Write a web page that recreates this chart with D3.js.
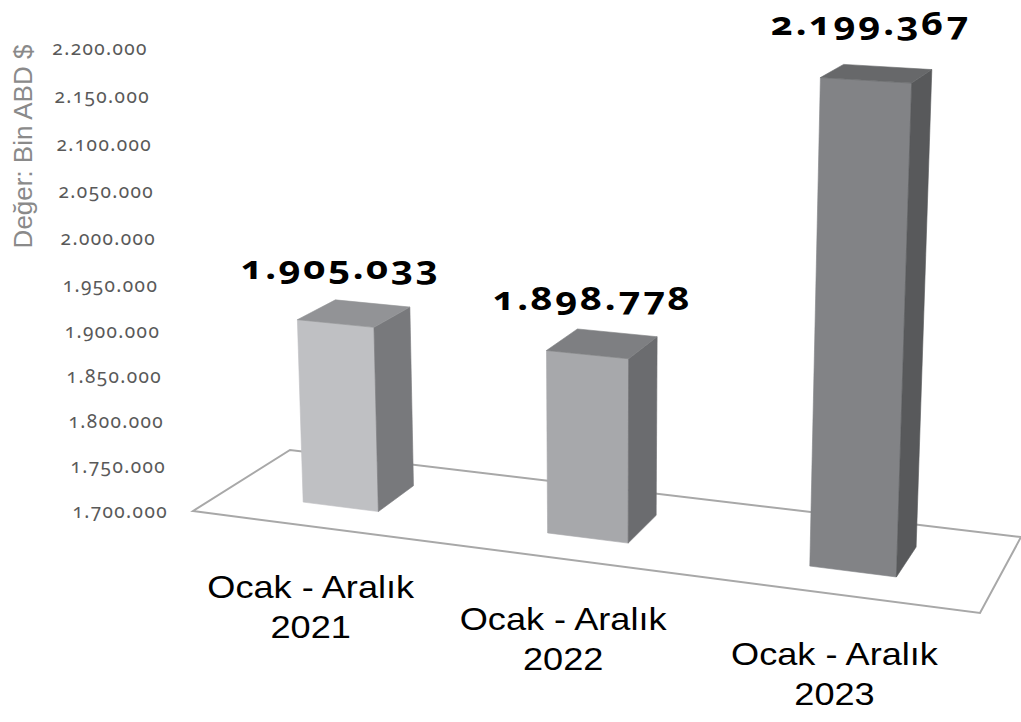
<!DOCTYPE html>
<html>
<head>
<meta charset="utf-8">
<script src="https://cdn.jsdelivr.net/npm/d3@7"></script>
<style>
  html, body { margin: 0; padding: 0; background: #ffffff; }
  svg { display: block; }
</style>
</head>
<body>
<div id="chart"></div>
<script>
// ---------------- data ----------------
const categories = ["Ocak - Aralık 2021", "Ocak - Aralık 2022", "Ocak - Aralık 2023"];
const values = [1905033, 1898778, 2199367];
const tickValues = [1700000, 1750000, 1800000, 1850000, 1900000, 1950000, 2000000, 2050000, 2100000, 2150000, 2200000];
const axisTitle = "Değer: Bin ABD $";

// ---------------- style ----------------
const frontColors = ["#bfc0c3", "#a7a8ab", "#828386"];
const topColors   = ["#929396", "#7e7f82", "#67686a"];
const sideColors  = ["#78797c", "#6b6c6f", "#58595b"];

const W = 1021, H = 722;

// ---------------- perspective frame ----------------
// floor quad corners (frame of the 3D plot): front-left, front-right, back-right, back-left
const floorFL = [193, 511], floorFR = [980, 613], floorBR = [1021, 537], floorBL = [290, 450];
const vertVP = [605, 10000];   // vanishing point of vertical lines
const axisTopY = 48;           // where the top of the value range meets the front-left corner

function squareToQuad(p0, p1, p2, p3) {
  const [x0, y0] = p0, [x1, y1] = p1, [x2, y2] = p2, [x3, y3] = p3;
  const dx1 = x1 - x2, dx2 = x3 - x2, dx3 = x0 - x1 + x2 - x3;
  const dy1 = y1 - y2, dy2 = y3 - y2, dy3 = y0 - y1 + y2 - y3;
  const den = dx1 * dy2 - dx2 * dy1;
  const g = (dx3 * dy2 - dx2 * dy3) / den;
  const h = (dx1 * dy3 - dx3 * dy1) / den;
  return {
    a: x1 - x0 + g * x1, b: x3 - x0 + h * x3, c: x0,
    d: y1 - y0 + g * y1, e: y3 - y0 + h * y3, f: y0,
    g, h
  };
}
const Hm = squareToQuad(floorFL, floorFR, floorBR, floorBL);
const K = (Hm.f - axisTopY) / (axisTopY - vertVP[1]);

// u: across (0..1), Y: height (0..1), v: depth (0 front .. 1 back)
function project(u, Y, v) {
  const xh = Hm.a * u + Hm.b * v + Hm.c + Y * K * vertVP[0];
  const yh = Hm.d * u + Hm.e * v + Hm.f + Y * K * vertVP[1];
  const wh = Hm.g * u + Hm.h * v + 1 + Y * K;
  return [xh / wh, yh / wh];
}

// ---------------- scales ----------------
const xBand = d3.scaleBand().domain(categories).range([0, 1])
  .paddingInner(0.685).paddingOuter(0.3425);
const yWorld = d3.scaleLinear().domain([tickValues[0], tickValues[tickValues.length - 1]]).range([0, 1]);
const zFront = 0.295, zBack = 0.70;

const trLocale = d3.formatLocale({ decimal: ",", thousands: ".", grouping: [3], currency: ["", ""] });
const fmt = trLocale.format(",d");

// ---------------- drawing ----------------
const svg = d3.select("#chart").append("svg")
  .attr("width", W).attr("height", H)
  .attr("viewBox", `0 0 ${W} ${H}`);

const line = d3.line();

// floor
const floorPts = [[0, 0], [1, 0], [1, 1], [0, 1]].map(([u, v]) => project(u, 0, v));
svg.append("path")
  .attr("d", line(floorPts) + "Z")
  .attr("fill", "#ffffff")
  .attr("stroke", "#a8a8a8")
  .attr("stroke-width", 2)
  .attr("stroke-linejoin", "miter");

// value axis tick labels (front-left edge)
svg.append("g").selectAll("text")
  .data(tickValues)
  .join("text")
  .attr("x", d => project(0, yWorld(d), 0)[0] - 25)
  .attr("y", d => project(0, yWorld(d), 0)[1] + 6.5)
  .attr("text-anchor", "end")
  .attr("font-family", "'Noto Sans', 'Open Sans', sans-serif")
  .attr("font-size", 19)
  .attr("letter-spacing", 1.4)
  .style("font-variant-numeric", "oldstyle-nums")
  .attr("fill", "#595959")
  .text(d => fmt(d));

// axis title
svg.append("text")
  .attr("transform", "translate(32,146.5) rotate(-90)")
  .attr("text-anchor", "middle")
  .attr("font-family", "'Liberation Sans', Arial, sans-serif")
  .attr("font-size", 26)
  .attr("fill", "#8a8a8a")
  .text(axisTitle);

// bars
const bars = categories.map((c, i) => ({ cat: c, value: values[i], i }));
const barG = svg.append("g").selectAll("g").data(bars).join("g");

function faces(d) {
  const u0 = xBand(d.cat), u1 = u0 + xBand.bandwidth();
  const Y = yWorld(d.value);
  return [
    { pts: [[u0, 0, zFront], [u1, 0, zFront], [u1, Y, zFront], [u0, Y, zFront]], fill: frontColors[d.i] },
    { pts: [[u1, 0, zFront], [u1, 0, zBack], [u1, Y, zBack], [u1, Y, zFront]], fill: sideColors[d.i] },
    { pts: [[u0, Y, zFront], [u1, Y, zFront], [u1, Y, zBack], [u0, Y, zBack]], fill: topColors[d.i] }
  ];
}
barG.selectAll("path")
  .data(d => faces(d))
  .join("path")
  .attr("d", f => line(f.pts.map(p => project(p[0], p[1], p[2]))) + "Z")
  .attr("fill", f => f.fill)
  .attr("stroke", f => f.fill)
  .attr("stroke-width", 0.6)
  .attr("stroke-linejoin", "round");

// value labels
svg.append("g").selectAll("text")
  .data(bars)
  .join("text")
  .attr("transform", d => {
    const p = project(xBand(d.cat) + xBand.bandwidth() / 2, yWorld(d.value), zFront);
    return `translate(${p[0] + 5},${p[1] - 45}) scale(1.2,1)`;
  })
  .attr("text-anchor", "middle")
  .attr("font-family", "'Noto Sans', 'Open Sans', sans-serif")
  .attr("font-weight", "bold")
  .attr("font-size", 32)
  .attr("letter-spacing", 2)
  .style("font-variant-numeric", "oldstyle-nums")
  .attr("fill", "#000000")
  .text(d => fmt(d.value));

// category labels (below the front edge)
const catG = svg.append("g").selectAll("g")
  .data(bars)
  .join("g")
  .attr("transform", d => {
    const p = project(xBand(d.cat) + xBand.bandwidth() / 2, 0, 0);
    return `translate(${p[0] - 2},${p[1] + 71}) scale(1.13,1)`;
  });
catG.selectAll("text")
  .data(d => {
    const k = d.cat.lastIndexOf(" ");
    return [d.cat.slice(0, k), d.cat.slice(k + 1)];
  })
  .join("text")
  .attr("x", 0)
  .attr("y", (t, j) => j * 40)
  .attr("text-anchor", "middle")
  .attr("font-family", "'Liberation Sans', Arial, sans-serif")
  .attr("font-size", 32)
  .attr("fill", "#000000")
  .text(t => t);
</script>
</body>
</html>
